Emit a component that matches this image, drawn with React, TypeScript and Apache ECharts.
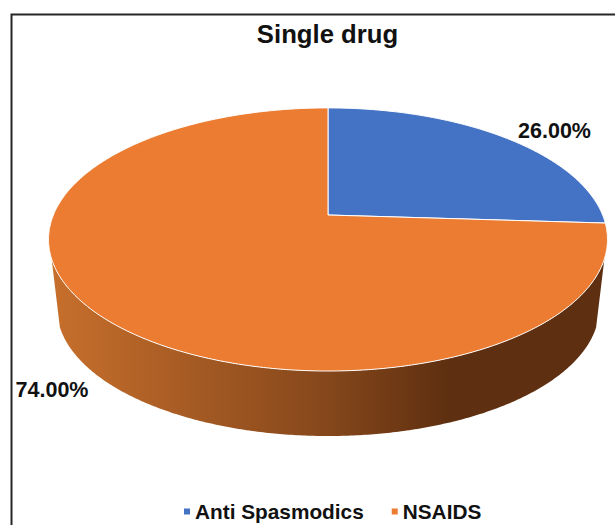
import React, { useEffect, useRef } from "react";
import * as echarts from "echarts";

const categories = ["Anti Spasmodics", "NSAIDS"];
const values = [26, 74];
const colors = ["#4472C4", "#EB7C31"];
const chartTitle = "Single drug";

// Layout of the tilted disc and of the texts (not data)
const CX = 328;
const CY = 215;
const A = 274.6;
const B = 127;
const P = 0.186;
const WALL_SCALE = 0.97;
const WALL_DROP = 69.7;
const WALL_FROM = 109;
const WALL_TO = 251;
const LABEL_CENTERS = [
  [554.5, 131],
  [52, 390],
];
const FONT = '"Liberation Sans", Arial, sans-serif';

const rad = (d: number) => (d * Math.PI) / 180;

function project(deg: number, scale = 1, drop = 0, r = 1): number[] {
  const u = r * Math.sin(rad(deg));
  const v = r * Math.cos(rad(deg));
  const w = 1 + P * v;
  return [CX + (scale * A * u) / w, CY + drop - (scale * B * v) / w];
}

function arcPoints(from: number, to: number, scale = 1, drop = 0): number[][] {
  const n = Math.max(2, Math.ceil(Math.abs(to - from) * 2));
  const pts: number[][] = [];
  for (let i = 0; i <= n; i++) pts.push(project(from + ((to - from) * i) / n, scale, drop));
  return pts;
}

const total = values.reduce((a, b) => a + b, 0);

function makeRenderItem(index: number) {
  const before = values.slice(0, index).reduce((a, b) => a + b, 0);
  return (_params: any, api: any) => {
    const value = api.value(0);
    const start = (before / total) * 360;
    const end = ((before + value) / total) * 360;
    const children: any[] = [];
    const wa = Math.max(start, WALL_FROM);
    const wb = Math.min(end, WALL_TO);
    if (wb > wa) {
      const front = arcPoints(wa, wb);
      const back = arcPoints(wb, wa, WALL_SCALE, WALL_DROP);
      children.push({
        type: "polygon",
        shape: { points: [...front, ...back] },
        style: {
          fill: new echarts.graphic.LinearGradient(0, 0, 1, 0, [
            { offset: 0, color: "#C76F2C" },
            { offset: 0.5, color: "#85471B" },
            { offset: 0.72, color: "#5E2F10" },
            { offset: 1, color: "#5E2F10" },
          ]),
          stroke: "none",
        },
      });
    }
    children.push({
      type: "polygon",
      shape: { points: [[CX, CY], ...arcPoints(start, end)] },
      style: { fill: colors[index], stroke: "#FFFFFF", lineWidth: 1, lineJoin: "round" },
    });
    children.push({
      type: "text",
      style: {
        text: `${value.toFixed(2)}%`,
        x: LABEL_CENTERS[index][0],
        y: LABEL_CENTERS[index][1],
        align: "center",
        verticalAlign: "middle",
        fill: "#111111",
        font: `bold 21.5px ${FONT}`,
      },
    });
    return { type: "group", children };
  };
}

export default function App() {
  const ref = useRef<HTMLDivElement>(null);
  useEffect(() => {
    document.body.style.margin = "0";
    const chart = echarts.init(ref.current!, undefined, { renderer: "svg" });
    chart.setOption({
      animation: false,
      backgroundColor: "#FFFFFF",
      title: {
        text: chartTitle,
        left: 322.5,
        top: 15.5,
        textAlign: "center",
        textStyle: { color: "#111111", fontFamily: FONT, fontWeight: "bold", fontSize: 25.7 },
      },
      legend: {
        data: categories,
        left: 179,
        top: 496,
        padding: [5, 5, 0, 5],
        icon: "rect",
        itemWidth: 6,
        itemHeight: 6,
        itemGap: 28,
        selectedMode: false,
        textStyle: { color: "#111111", fontFamily: FONT, fontWeight: "bold", fontSize: 20.8 },
      },
      graphic: [
        {
          type: "polyline",
          silent: true,
          shape: { points: [[11.5, 525], [11.5, 14.5], [615, 14.5]] },
          style: { stroke: "#262626", lineWidth: 2, fill: "none" },
        },
      ],
      series: categories.map((name, i) => ({
        name,
        type: "custom",
        coordinateSystem: "none",
        silent: true,
        itemStyle: { color: colors[i] },
        data: [[values[i]]],
        renderItem: makeRenderItem(i),
      })),
    });
    return () => chart.dispose();
  }, []);
  return <div ref={ref} style={{ position: "absolute", left: 0, top: 0, width: 615, height: 525 }} />;
}
